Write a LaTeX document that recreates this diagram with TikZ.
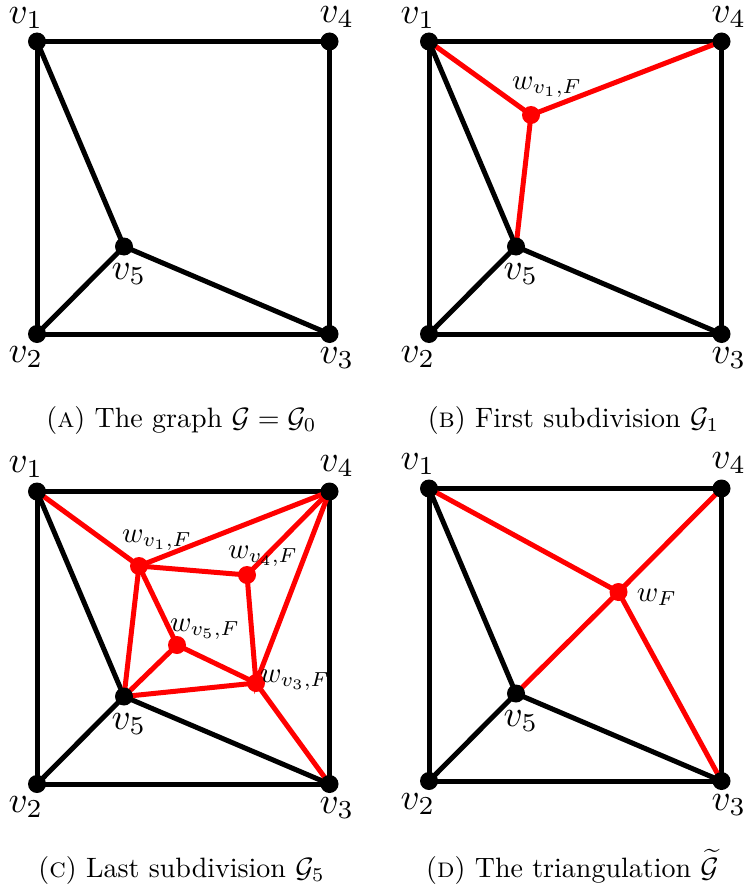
\documentclass[tikz,border=0pt]{standalone}
\usetikzlibrary{backgrounds}
\tikzset{
  bdot/.style={circle,fill=black,minimum size=18pt,inner sep=0pt},
  rdot/.style={circle,fill=red,minimum size=18pt,inner sep=0pt},
  bedge/.style={draw=black,line width=5pt},
  redge/.style={draw=red,line width=5pt},
  vlab/.style={inner sep=0pt,scale=3.7},
  wlab/.style={inner sep=0pt,scale=2.9},
  captext/.style={inner sep=0pt,anchor=base,scale=2.8},
}
\begin{document}
\begin{tikzpicture}[x=1pt,y=-1pt]
\useasboundingbox (0,0) rectangle (746,888);
% ---------- Panel A ----------
\node[bdot] (a1) at (37,41.5) {};
\node[bdot] (a4) at (329.5,41.5) {};
\node[bdot] (a2) at (37,334) {};
\node[bdot] (a3) at (329.5,334) {};
\node[bdot] (a5) at (124,246.5) {};
\begin{scope}[on background layer]
\draw[bedge] (a1.center) -- (a4.center) -- (a3.center) -- (a2.center) -- cycle;
\draw[bedge] (a1.center) -- (a5.center) -- (a3.center);
\draw[bedge] (a5.center) -- (a2.center);
\end{scope}
\node[vlab] (la1) at (26,18) {$v_1$};
\node[vlab] (la4) at (337,17) {$v_4$};
\node[vlab] (la2) at (26,357) {$v_2$};
\node[vlab] (la3) at (337,358) {$v_3$};
\node[vlab] (la5) at (129,274) {$v_5$};
\node[captext] (capa) at (181.5,427) {(\textsc{a}) The graph $\mathcal{G}=\mathcal{G}_0$};
% ---------- Panel B ----------
\node[bdot] (b1) at (429,41.5) {};
\node[bdot] (b4) at (721.5,41.5) {};
\node[bdot] (b2) at (429,334) {};
\node[bdot] (b3) at (721.5,334) {};
\node[bdot] (b5) at (516,246.5) {};
\node[rdot] (bw) at (531,115) {};
\begin{scope}[on background layer]
\draw[bedge] (b1.center) -- (b4.center) -- (b3.center) -- (b2.center) -- cycle;
\draw[bedge] (b1.center) -- (b5.center) -- (b3.center);
\draw[bedge] (b5.center) -- (b2.center);
\draw[redge] (b1.center) -- (bw.center) -- (b4.center);
\draw[redge] (bw.center) -- (b5.center);
\end{scope}
\node[vlab] (lb1) at (418,18) {$v_1$};
\node[vlab] (lb4) at (729,17) {$v_4$};
\node[vlab] (lb2) at (418,357) {$v_2$};
\node[vlab] (lb3) at (729,358) {$v_3$};
\node[vlab] (lb5) at (521,274) {$v_5$};
\node[wlab] (lbw) at (547,87) {$w_{v_1,F}$};
\node[captext] (capb) at (573.5,427) {(\textsc{b}) First subdivision $\mathcal{G}_1$};
% ---------- Panel C ----------
\node[bdot] (c1) at (37,491.5) {};
\node[bdot] (c4) at (329.5,491.5) {};
\node[bdot] (c2) at (37,784) {};
\node[bdot] (c3) at (329.5,784) {};
\node[bdot] (c5) at (124,696.5) {};
\node[rdot] (cw1) at (139,566) {};
\node[rdot] (cw4) at (247,575) {};
\node[rdot] (cw5) at (177,645) {};
\node[rdot] (cw3) at (256,683) {};
\begin{scope}[on background layer]
\draw[bedge] (c1.center) -- (c4.center) -- (c3.center) -- (c2.center) -- cycle;
\draw[bedge] (c1.center) -- (c5.center) -- (c3.center);
\draw[bedge] (c5.center) -- (c2.center);
\draw[redge] (c1.center) -- (cw1.center) -- (c4.center);
\draw[redge] (cw1.center) -- (cw4.center) -- (c4.center);
\draw[redge] (cw4.center) -- (cw3.center) -- (c4.center);
\draw[redge] (cw3.center) -- (c3.center);
\draw[redge] (cw1.center) -- (c5.center) -- (cw3.center);
\draw[redge] (cw1.center) -- (cw5.center) -- (cw3.center);
\draw[redge] (cw5.center) -- (c5.center);
\end{scope}
\node[vlab] (lc1) at (26,467) {$v_1$};
\node[vlab] (lc4) at (337,466) {$v_4$};
\node[vlab] (lc2) at (26,807) {$v_2$};
\node[vlab] (lc3) at (337,808) {$v_3$};
\node[vlab] (lc5) at (129,724) {$v_5$};
\node[wlab] (lcw1) at (157,540) {$w_{v_1,F}$};
\node[wlab] (lcw4) at (263,556) {$w_{v_4,F}$};
\node[wlab] (lcw5) at (205,629) {$w_{v_5,F}$};
\node[wlab] (lcw3) at (295,680) {$w_{v_3,F}$};
\node[captext] (capc) at (181.5,877) {(\textsc{c}) Last subdivision $\mathcal{G}_5$};
% ---------- Panel D ----------
\node[bdot] (d1) at (429,488.5) {};
\node[bdot] (d4) at (721.5,488.5) {};
\node[bdot] (d2) at (429,781) {};
\node[bdot] (d3) at (721.5,781) {};
\node[bdot] (d5) at (516,693.5) {};
\node[rdot] (dw) at (618.5,592) {};
\begin{scope}[on background layer]
\draw[bedge] (d1.center) -- (d4.center) -- (d3.center) -- (d2.center) -- cycle;
\draw[bedge] (d1.center) -- (d5.center) -- (d3.center);
\draw[bedge] (d5.center) -- (d2.center);
\draw[redge] (d1.center) -- (dw.center) -- (d4.center);
\draw[redge] (d5.center) -- (dw.center) -- (d3.center);
\end{scope}
\node[vlab] (ld1) at (418,464) {$v_1$};
\node[vlab] (ld4) at (729,463) {$v_4$};
\node[vlab] (ld2) at (418,804) {$v_2$};
\node[vlab] (ld3) at (729,805) {$v_3$};
\node[vlab] (ld5) at (521,721) {$v_5$};
\node[wlab] (ldw) at (657,597) {$w_F$};
\node[captext] (capd) at (572.5,877) {(\textsc{d}) The triangulation $\widetilde{\mathcal{G}}$};
\end{tikzpicture}
\end{document}
